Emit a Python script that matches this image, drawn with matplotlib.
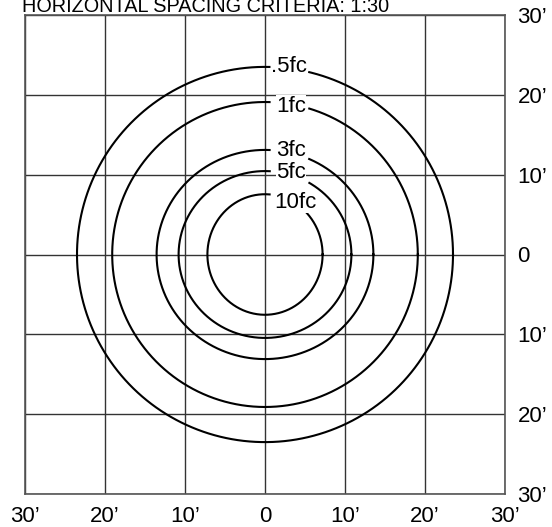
import matplotlib
matplotlib.use("Agg")
import matplotlib.pyplot as plt
import numpy as np

plt.rcParams['font.family'] = ['Liberation Sans', 'DejaVu Sans']

# isofootcandle contours (feet)
labels = [".5fc", "1fc", "3fc", "5fc", "10fc"]
rx = [23.5, 19.1, 13.55, 10.8, 7.2]     # horizontal half-width
ry = [23.5, 19.1, 13.1, 10.45, 7.55]    # vertical half-height
label_x = [0.8, 1.4, 1.4, 1.4, 1.2]
label_y = [23.6, 18.6, 13.0, 10.25, 6.5]
gap_end = [5.5, 5.5, 5.5, 5.5, 5.2]

ticks = [-30, -20, -10, 0, 10, 20, 30]
tick_labels = ["30\u2019", "20\u2019", "10\u2019", "0", "10\u2019", "20\u2019", "30\u2019"]

fig = plt.figure(figsize=(5.52, 5.27), dpi=100)
ax = fig.add_axes([25/552, 33/527, 480/552, 479/527])

ax.set_xlim(-30, 30)
ax.set_ylim(-30, 30)

# grid
for t in ticks:
    ax.axvline(t, color='#333333', lw=1.0, zorder=1)
    ax.axhline(t, color='#333333', lw=1.0, zorder=1)

th = np.linspace(0, 2*np.pi, 1000)
for i in range(len(labels)):
    x = rx[i] * np.cos(th)
    y = ry[i] * np.sin(th)
    cut = (x > 0.6) & (x < gap_end[i]) & (y > 0)
    x[cut] = np.nan
    y[cut] = np.nan
    ax.plot(x, y, color='black', lw=1.5, zorder=3)
    ax.text(label_x[i], label_y[i], labels[i], ha='left', va='center',
            fontsize=16, zorder=4,
            bbox=dict(facecolor='white', edgecolor='none', pad=0.2))

ax.set_xticks(ticks)
ax.set_xticklabels(tick_labels)
ax.set_yticks(ticks)
ax.set_yticklabels(tick_labels)
ax.yaxis.tick_right()
ax.tick_params(axis='both', length=0, labelsize=16)
ax.tick_params(axis='x', pad=9)
ax.tick_params(axis='y', pad=9)
for s in ax.spines.values():
    s.set_color('#555555')
    s.set_linewidth(1.2)

fig.text(22/552, 1 - 12/527, "HORIZONTAL SPACING CRITERIA: 1:30",
         ha='left', va='baseline', fontsize=14.3)

fig.savefig("out.png", dpi=100)
